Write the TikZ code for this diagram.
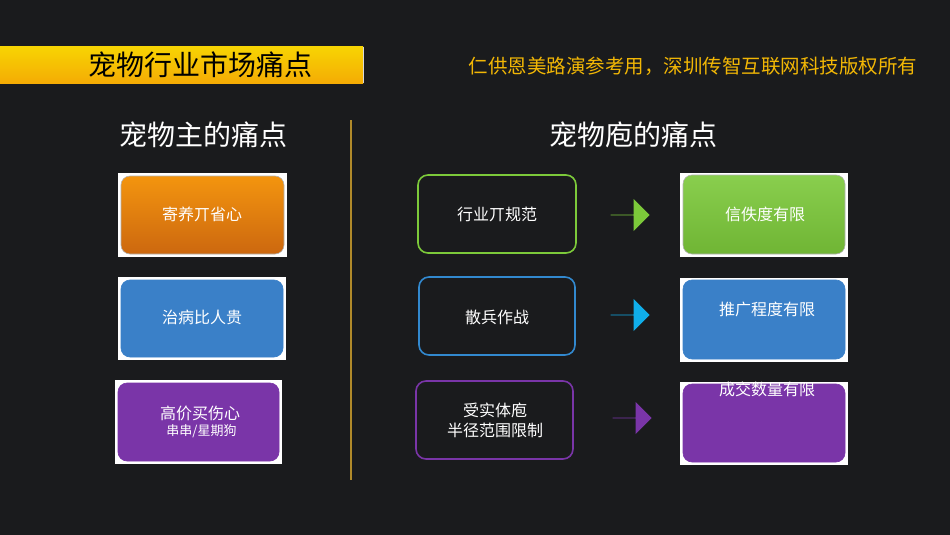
\documentclass[tikz,border=0pt]{standalone}
\usepackage{fontspec}
\newfontfamily\cjk{Noto Sans CJK SC}
\usetikzlibrary{shapes.arrows}
\definecolor{bg}{HTML}{1A1B1D}
\definecolor{gold}{HTML}{F2B705}
\definecolor{divc}{HTML}{B08A2A}
\definecolor{orng}{HTML}{F07A12}
\definecolor{blu}{HTML}{3A80C8}
\definecolor{purp}{HTML}{7A35A8}
\definecolor{grn}{HTML}{7CC93A}
\definecolor{cyan2}{HTML}{10AEEA}
\begin{document}
\begin{tikzpicture}[x=1pt,y=-1pt,font=\cjk,
  fillbox/.style={rounded corners=9pt,draw=black!30,line width=0.6pt},
  whitebg/.style={fill=white},
  outbox/.style={rounded corners=10pt,line width=1.6pt},
  arr/.style={single arrow,minimum width=32pt,single arrow head extend=7pt,minimum height=39pt,inner sep=0pt,draw=none},
  lbl/.style={text=white,font=\cjk\fontsize{16}{20}\selectfont,align=center}]
\fill[bg] (0,0) rectangle (950,535);
% title
\shade[top color=gold!60!yellow, bottom color=gold!80!orange] (0,47) rectangle (363,83);
\draw[white!70!gray,line width=0.6pt] (363,47) -- (363,83);
\node (title) at (200,65) {\fontsize{28}{30}\selectfont\color{black}宠物行业市场痛点};
\node (cr) at (693,66) {\fontsize{19.5}{21}\selectfont\color{gold}仁供恩美路演参考用，深圳传智互联网科技版权所有};
\node (h1) at (203,135) {\fontsize{28}{30}\selectfont\color{white}宠物主的痛点};
\node (h2) at (633,135) {\fontsize{28}{30}\selectfont\color{white}宠物庖的痛点};
\draw[divc,line width=1.2pt] (351,120) coordinate (d1) -- (351,480) coordinate (d2);
% left boxes
\fill[whitebg] (118,173) rectangle (287,257);
\shade[fillbox,top color=orng!80!yellow,bottom color=orng!85!black] (121,176) rectangle (284,254);
\node[lbl] (l1) at (202,214) {寄养丌省心};
\fill[whitebg] (118,277) rectangle (286,360);
\fill[fillbox,blu] (121,280) rectangle (283,357);
\node[lbl] (l2) at (202,317) {治病比人贵};
\fill[whitebg] (115,380) rectangle (282,464);
\fill[fillbox,purp] (118,383) rectangle (279,461);
\node[lbl] (l3) at (200,422) {高价买伤心\\[-4pt]\fontsize{13}{15}\selectfont\ 串串/星期狗};
% middle outline boxes
\draw[outbox,grn] (418,175) rectangle (576,253);
\node[lbl] (m1) at (497,214) {行业丌规范};
\draw[outbox,blu!80!cyan2] (419,277) rectangle (575,355);
\node[lbl] (m2) at (497,317) {散兵作战};
\draw[outbox,purp] (416,381) rectangle (573,459);
\node[lbl] (m3) at (495,420) {受实体庖\\半径范围限制};
% right boxes
\fill[whitebg] (680,173) rectangle (848,257);
\shade[fillbox,top color=grn!90!white,bottom color=grn!90!black] (683,175) rectangle (845,254);
\node[lbl] (r1) at (765,214) {信佚度有限};
\fill[whitebg] (680,278) rectangle (848,362);
\fill[fillbox,blu] (683,280) rectangle (845,359);
\node[lbl] (r2) at (767,309) {推广程度有限};
\fill[whitebg] (680,382) rectangle (848,465);
\fill[fillbox,purp] (683,384) rectangle (845,462);
\node[lbl] (r3) at (767,389) {成交数量有限};
% arrows
\node[arr,fill=grn] (a1) at (630,215) {};
\node[arr,fill=cyan2] (a2) at (630,315) {};
\node[arr,fill=purp] (a3) at (632,418) {};
\end{tikzpicture}
\end{document}
